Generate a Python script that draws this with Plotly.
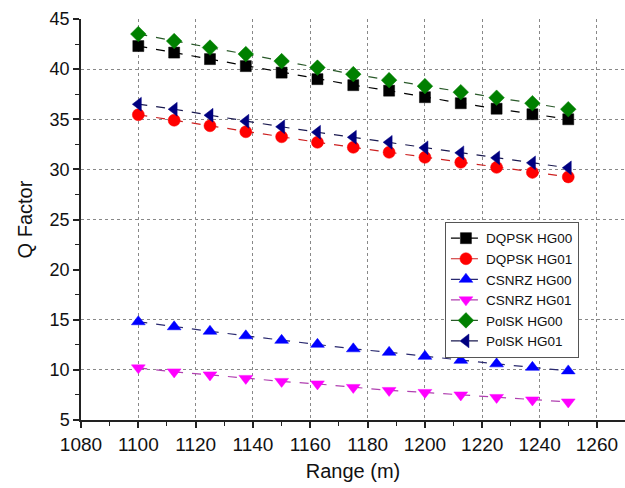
import plotly.graph_objects as go

range_m = [1100, 1112.5, 1125, 1137.5, 1150, 1162.5, 1175, 1187.5, 1200, 1212.5, 1225, 1237.5, 1250]

dqpsk_hg00 = [42.3, 41.65, 41.0, 40.3, 39.65, 39.0, 38.4, 37.85, 37.2, 36.6, 36.05, 35.5, 35.0]
dqpsk_hg01 = [35.45, 34.9, 34.35, 33.75, 33.25, 32.7, 32.2, 31.7, 31.2, 30.7, 30.2, 29.7, 29.25]
csnrz_hg00 = [14.8, 14.3, 13.85, 13.4, 12.95, 12.55, 12.1, 11.75, 11.35, 10.95, 10.6, 10.25, 9.9]
csnrz_hg01 = [10.2, 9.8, 9.5, 9.15, 8.85, 8.6, 8.25, 7.95, 7.75, 7.5, 7.25, 7.0, 6.8]
polsk_hg00 = [43.5, 42.8, 42.15, 41.5, 40.8, 40.15, 39.5, 38.9, 38.3, 37.7, 37.15, 36.6, 36.0]
polsk_hg01 = [36.5, 36.0, 35.4, 34.8, 34.25, 33.7, 33.2, 32.7, 32.15, 31.65, 31.15, 30.65, 30.15]

series = [
    ("DQPSK HG00", dqpsk_hg00, "#000000", "#000000", "square", 11),
    ("DQPSK HG01", dqpsk_hg01, "#ff0000", "#cc2020", "circle", 12),
    ("CSNRZ HG00", csnrz_hg00, "#0000ff", "#2a2a70", "triangle-up", 12),
    ("CSNRZ HG01", csnrz_hg01, "#ff00ff", "#b040b0", "triangle-down", 12),
    ("PolSK HG00", polsk_hg00, "#008000", "#2a5a2a", "diamond", 12),
    ("PolSK HG01", polsk_hg01, "#000080", "#1a1a50", "triangle-left", 12),
]

x_ticks = [1080, 1100, 1120, 1140, 1160, 1180, 1200, 1220, 1240, 1260]
y_ticks = [5, 10, 15, 20, 25, 30, 35, 40, 45]
y_grid = [10, 15, 25, 30, 35, 40]

fig = go.Figure()

# invisible trace on a helper axis to draw the horizontal grid
fig.add_trace(go.Scatter(x=[range_m[0]], y=[y_grid[0]], yaxis="y2", mode="markers",
                         marker=dict(opacity=0), showlegend=False, hoverinfo="skip"))

for name, vals, color, lcolor, sym, size in series:
    fig.add_trace(go.Scatter(
        x=range_m, y=vals, name=name, mode="lines+markers",
        line=dict(color=lcolor, width=1.2, dash="dash"),
        marker=dict(symbol=sym, size=size, color=color,
                    line=dict(width=0.5, color=color)),
    ))

font = "Liberation Sans, Arial, sans-serif"
fig.update_layout(
    width=625, height=488,
    margin=dict(l=81, r=0, t=19, b=68),
    paper_bgcolor="white", plot_bgcolor="white",
    font=dict(family=font, size=18, color="#111111"),
    xaxis=dict(
        range=[1080, 1269.8], tickvals=x_ticks, ticks="outside", ticklen=6,
        tickwidth=1.5, tickcolor="#222", showline=True, linecolor="#222", linewidth=1.5,
        showgrid=True, gridcolor="#888", griddash="dot", gridwidth=1,
        zeroline=False,
        minor=dict(ticks="outside", ticklen=4, tickwidth=1.2, tickcolor="#222", dtick=10, tick0=1080, showgrid=False),
        title=dict(text="Range (m)", font=dict(size=20), standoff=10),
        tickfont=dict(size=19),
    ),
    yaxis=dict(
        range=[5, 45], tickvals=y_ticks, ticks="outside", ticklen=6,
        tickwidth=1.5, tickcolor="#222", showline=True, linecolor="#222", linewidth=1.5,
        showgrid=False, zeroline=False,
        minor=dict(ticks="outside", ticklen=4, tickwidth=1.2, tickcolor="#222", dtick=2.5, tick0=5, showgrid=False),
        title=dict(text="Q Factor", font=dict(size=20), standoff=12),
        tickfont=dict(size=18),
    ),
    yaxis2=dict(
        range=[5, 45], overlaying="y", tickvals=y_grid, showticklabels=False,
        showgrid=True, gridcolor="#888", griddash="dot", gridwidth=1,
        zeroline=False, showline=False, ticks="",
    ),
    legend=dict(
        x=0.669, y=0.494, xanchor="left", yanchor="top",
        bgcolor="white", bordercolor="#555", borderwidth=1,
        font=dict(size=13.5, color="#111"), tracegroupgap=0, itemwidth=30,
    ),
    showlegend=True,
)

fig.write_html("out.html")
